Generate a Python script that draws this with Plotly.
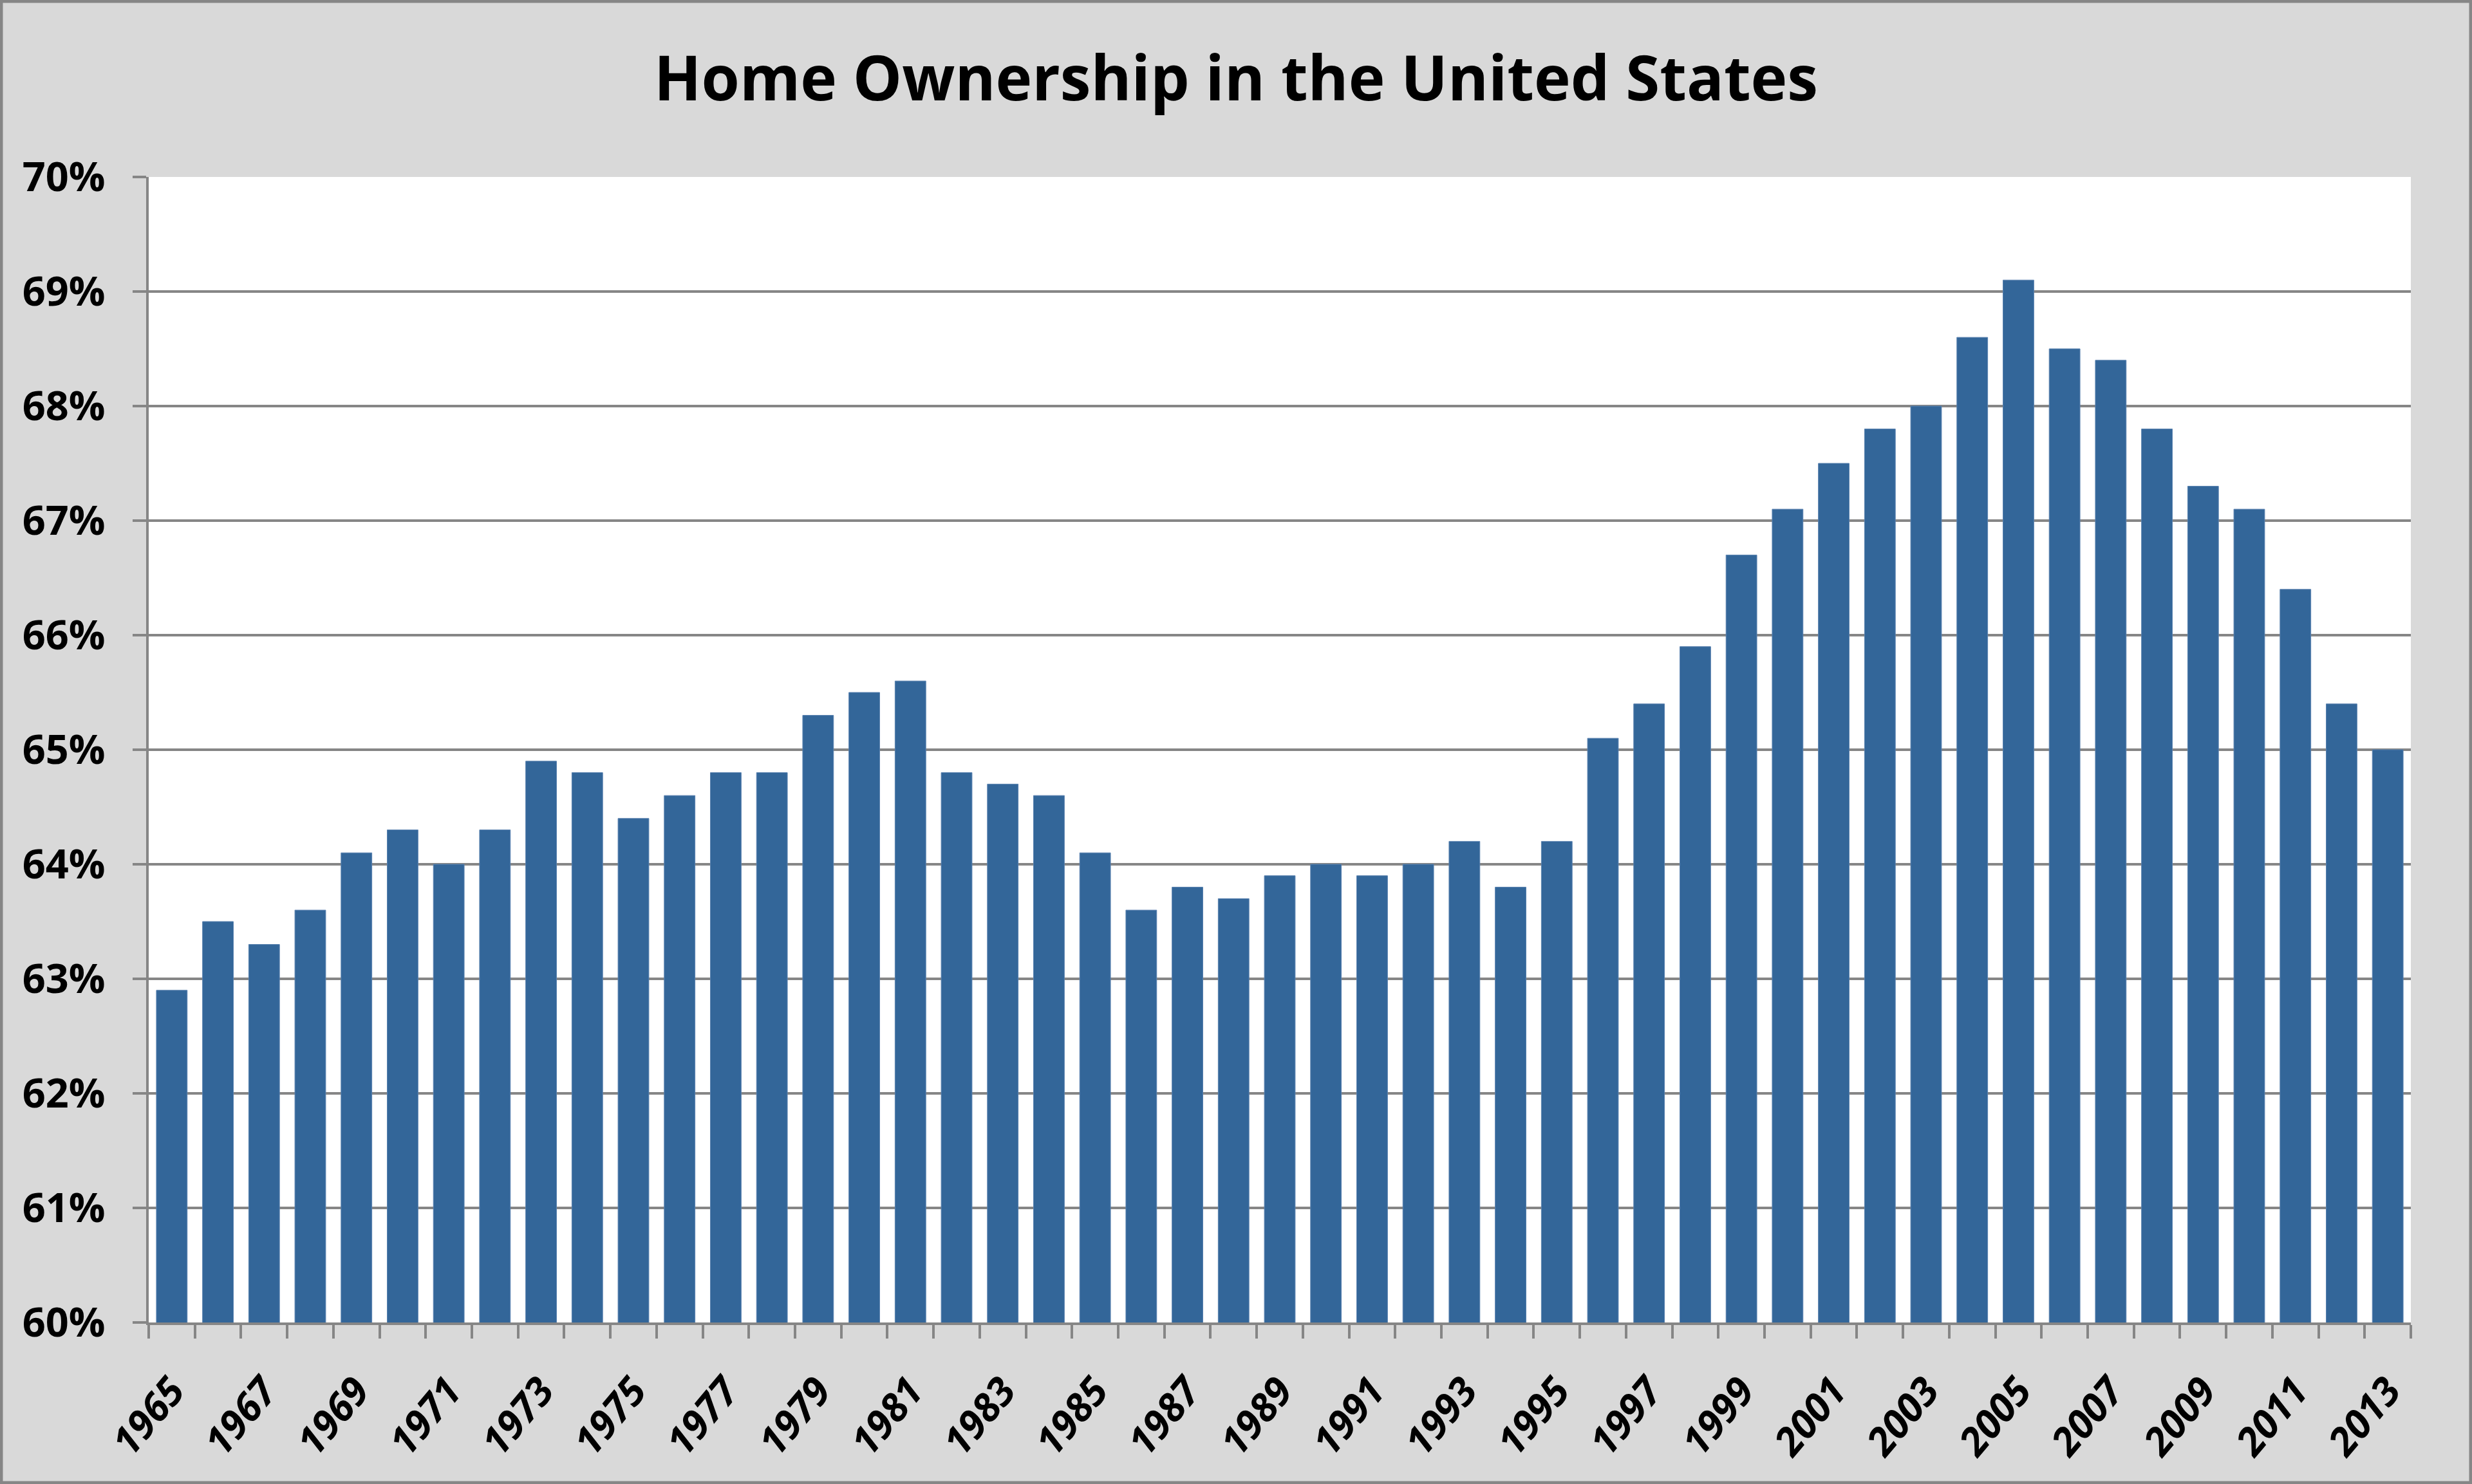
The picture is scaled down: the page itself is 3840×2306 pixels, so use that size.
import plotly.graph_objects as go

years = list(range(1965, 2014))
ownership_pct = [62.9, 63.5, 63.3, 63.6, 64.1, 64.3, 64.0, 64.3, 64.9, 64.8,
                 64.4, 64.6, 64.8, 64.8, 65.3, 65.5, 65.6, 64.8, 64.7, 64.6,
                 64.1, 63.6, 63.8, 63.7, 63.9, 64.0, 63.9, 64.0, 64.2, 63.8,
                 64.2, 65.1, 65.4, 65.9, 66.7, 67.1, 67.5, 67.8, 68.0, 68.6,
                 69.1, 68.5, 68.4, 67.8, 67.3, 67.1, 66.4, 65.4, 65.0]
label_years = years[::2]
y_ticks = [0.60, 0.61, 0.62, 0.63, 0.64, 0.65, 0.66, 0.67, 0.68, 0.69, 0.70]
title_text = "Home Ownership in the United States"

W, H = 3840, 2306
ML, MR, MT, MB = 231, 95, 275, 251
PW, PH = W - ML - MR, H - MT - MB
GRAY = "#868686"

fig = go.Figure()
fig.add_trace(go.Bar(
    x=years,
    y=[v / 100 for v in ownership_pct],
    marker=dict(color="#336699", line=dict(width=1, color="#5a82b0")),
    width=0.667,
))

fig.update_layout(
    width=W, height=H,
    margin=dict(l=ML, r=MR, t=MT, b=MB, pad=0),
    paper_bgcolor="#d9d9d9",
    plot_bgcolor="white",
    showlegend=False,
    title=dict(text=title_text, x=0.5, xanchor="center", xref="container",
               y=1 - 122 / H, yref="container", yanchor="middle",
               font=dict(family="Open Sans", size=96, color="black", weight="bold")),
    bargap=0.333,
)

fig.update_xaxes(
    range=[years[0] - 0.5, years[-1] + 0.5],
    tickmode="array", tickvals=label_years, ticktext=[str(y) for y in label_years],
    tickangle=-50, ticks="",
    tickfont=dict(family="Open Sans", size=61, color="black", weight="bold", style="italic"),
    ticklabelstandoff=42,
    automargin=False,
    showgrid=False, zeroline=False,
    showline=True, linecolor=GRAY, linewidth=3.5,
    minor=dict(tickmode="array", tickvals=[y - 0.5 for y in years] + [years[-1] + 0.5],
               ticks="outside", ticklen=21, tickwidth=3.5, tickcolor=GRAY, showgrid=False),
)

fig.update_yaxes(
    range=[y_ticks[0], y_ticks[-1]],
    tickmode="array", tickvals=y_ticks, tickformat=".0%",
    ticks="outside", ticklen=21, tickwidth=3.5, tickcolor=GRAY,
    tickfont=dict(family="Open Sans", size=63, color="black", weight="bold"),
    ticklabelstandoff=30,
    automargin=False,
    showgrid=True, gridcolor=GRAY, gridwidth=3.5,
    zeroline=False,
    showline=True, linecolor=GRAY, linewidth=3.5,
)

# outer figure border
fig.add_shape(type="rect", xref="paper", yref="paper",
              x0=-ML / PW, x1=(W - ML) / PW, y0=-MB / PH, y1=(H - MB) / PH,
              line=dict(color=GRAY, width=9), fillcolor="rgba(0,0,0,0)", layer="above")

fig.write_html("out.html", config={"displayModeBar": False},
               post_script="document.body.style.margin='0';document.body.style.overflow='hidden';")
